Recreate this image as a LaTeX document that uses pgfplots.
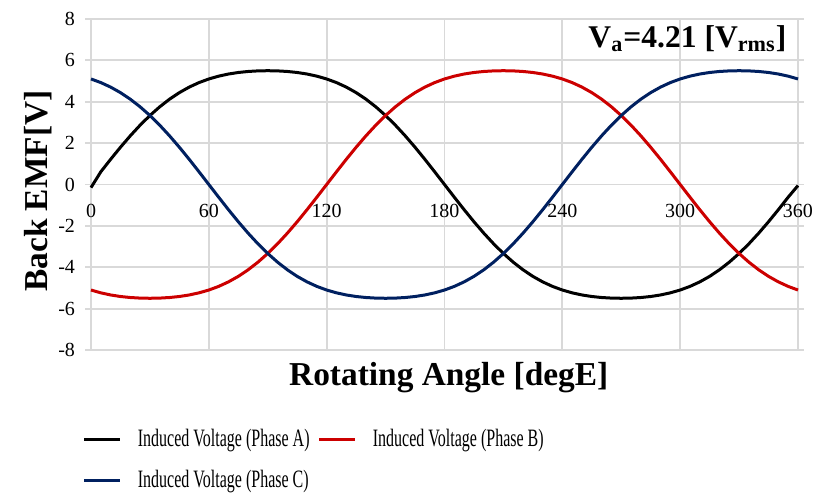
\documentclass[border=0pt]{standalone}
\usepackage{fontspec}
\setmainfont{Liberation Serif}
\usepackage{graphicx}
\usepackage{pgfplots}
\pgfplotsset{compat=1.18}
\usepackage{pgfplotstable}

\definecolor{phaseA}{RGB}{0,0,0}
\definecolor{phaseB}{RGB}{204,0,0}
\definecolor{phaseC}{RGB}{0,32,96}
\definecolor{gridgray}{RGB}{217,217,217}

% Back EMF of the three phases over one electrical period
\pgfplotstableread{
theta A B C
0 -0.150 -5.101 5.101
5 0.614 -5.237 4.926
10 1.218 -5.340 4.707
15 1.800 -5.414 4.441
20 2.352 -5.463 4.124
25 2.866 -5.491 3.755
30 3.335 -5.500 3.335
35 3.755 -5.491 2.866
40 4.124 -5.463 2.352
45 4.441 -5.414 1.800
50 4.707 -5.340 1.218
55 4.926 -5.237 0.614
60 5.101 -5.101 0.000
65 5.237 -4.926 -0.614
70 5.340 -4.707 -1.218
75 5.414 -4.441 -1.800
80 5.463 -4.124 -2.352
85 5.491 -3.755 -2.866
90 5.500 -3.335 -3.335
95 5.491 -2.866 -3.755
100 5.463 -2.352 -4.124
105 5.414 -1.800 -4.441
110 5.340 -1.218 -4.707
115 5.237 -0.614 -4.926
120 5.101 0.000 -5.101
125 4.926 0.614 -5.237
130 4.707 1.218 -5.340
135 4.441 1.800 -5.414
140 4.124 2.352 -5.463
145 3.755 2.866 -5.491
150 3.335 3.335 -5.500
155 2.866 3.755 -5.491
160 2.352 4.124 -5.463
165 1.800 4.441 -5.414
170 1.218 4.707 -5.340
175 0.614 4.926 -5.237
180 0.000 5.101 -5.101
185 -0.614 5.237 -4.926
190 -1.218 5.340 -4.707
195 -1.800 5.414 -4.441
200 -2.352 5.463 -4.124
205 -2.866 5.491 -3.755
210 -3.335 5.500 -3.335
215 -3.755 5.491 -2.866
220 -4.124 5.463 -2.352
225 -4.441 5.414 -1.800
230 -4.707 5.340 -1.218
235 -4.926 5.237 -0.614
240 -5.101 5.101 0.000
245 -5.237 4.926 0.614
250 -5.340 4.707 1.218
255 -5.414 4.441 1.800
260 -5.463 4.124 2.352
265 -5.491 3.755 2.866
270 -5.500 3.335 3.335
275 -5.491 2.866 3.755
280 -5.463 2.352 4.124
285 -5.414 1.800 4.441
290 -5.340 1.218 4.707
295 -5.237 0.614 4.926
300 -5.101 0.000 5.101
305 -4.926 -0.614 5.237
310 -4.707 -1.218 5.340
315 -4.441 -1.800 5.414
320 -4.124 -2.352 5.463
325 -3.755 -2.866 5.491
330 -3.335 -3.335 5.500
335 -2.866 -3.755 5.491
340 -2.352 -4.124 5.463
345 -1.800 -4.441 5.414
350 -1.218 -4.707 5.340
355 -0.614 -4.926 5.237
360 -0.050 -5.101 5.101
}\emf

\newcommand{\legtext}[1]{\makebox[94pt][l]{\hspace{6pt}\scalebox{0.64}[1]{#1}}}

\begin{document}
\begin{tikzpicture}
\useasboundingbox (0,0) rectangle (408pt,246.5pt);
\begin{axis}[
  at={(45.5pt,71.5pt)}, anchor=south west,
  scale only axis, width=353.5pt, height=165.5pt,
  xmin=0, xmax=360, ymin=-8, ymax=8,
  xtick={0,60,...,360}, ytick={-8,-6,...,8},
  grid=major, grid style={gridgray, line width=0.9pt},
  axis line style={gridgray, line width=0.9pt},
  tick align=outside, major tick length=3pt,
  xtick style={draw=none},
  ytick style={gridgray, line width=0.9pt},
  tick label style={font=\fontsize{10}{12}\selectfont},
  /pgf/number format/assume math mode=true,
  xticklabel style={anchor=center, yshift=72.75pt},
  yticklabel style={anchor=east, xshift=-1.5pt},
  xlabel={Rotating Angle [degE]},
  ylabel={Back EMF[V]},
  label style={font=\bfseries\fontsize{16.7}{20}\selectfont},
  xlabel style={at={(axis description cs:0.506,-0.082)}, anchor=center},
  ylabel style={at={(axis description cs:-0.075,0.48)}, anchor=center},
  legend columns=2,
  legend cell align=left,
  legend style={draw=none, fill=none, inner sep=0pt,
    at={(axis description cs:-0.012,-0.226)}, anchor=north west,
    font=\fontsize{12.5}{15}\selectfont, row sep=6.5pt, column sep=0pt},
  legend image code/.code={\draw[#1, line width=1.5pt] (0pt,0pt) -- (18pt,0pt);},
  clip=false,
]
\addplot[phaseA, line width=1.5pt] table[x=theta, y=A] {\emf};
\addlegendentry{\legtext{Induced Voltage (Phase A)}}
\addplot[phaseB, line width=1.5pt] table[x=theta, y=B] {\emf};
\addlegendentry{\legtext{Induced Voltage (Phase B)}}
\addplot[phaseC, line width=1.5pt] table[x=theta, y=C] {\emf};
\addlegendentry{\legtext{Induced Voltage (Phase C)}}
\node[anchor=base east, inner sep=0pt, font=\bfseries\fontsize{15.8}{19}\selectfont]
  at (axis description cs:0.984,0.915) {V\textsubscript{a}=4.21 [V\textsubscript{rms}]};
\end{axis}
\end{tikzpicture}
\end{document}
